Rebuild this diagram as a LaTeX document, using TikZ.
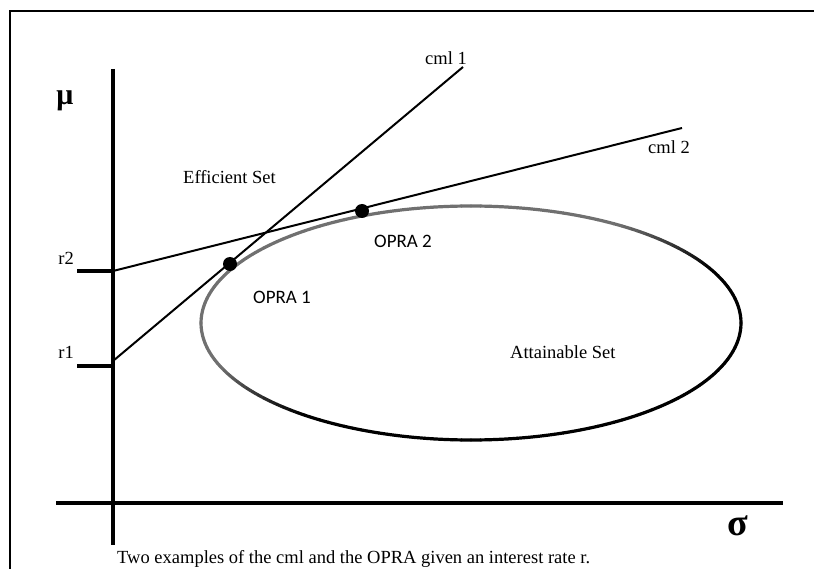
\documentclass[tikz,border=0pt]{standalone}
\usepackage{fontspec}
\setmainfont{Liberation Serif}
\newfontfamily\oprafont{Carlito}
\begin{document}
\begin{tikzpicture}[x=1pt,y=-1pt,
  axisline/.style={line width=4.5pt},
  cmlline/.style={line width=2pt},
  frameline/.style={line width=2pt},
  lbl/.style={inner sep=0pt,font=\fontsize{18.5}{18.5}\selectfont},
  oprlbl/.style={inner sep=0pt,font=\oprafont\fontsize{19}{19}\selectfont},
  dotmark/.style={circle,fill=black,minimum size=14pt,inner sep=0pt}]
\useasboundingbox (0,0) rectangle (814,569);
% frame
\coordinate (F1) at (10,569);
\coordinate (F2) at (10,11);
\coordinate (F3) at (814,11);
\draw[frameline] (F1) -- (F2) -- (F3);
% axes
\coordinate (Ytop) at (113,69);
\coordinate (Ybot) at (113,545);
\coordinate (Xl) at (56,503);
\coordinate (Xr) at (783,503);
\draw[axisline] (Ytop) -- (Ybot);
\draw[axisline] (Xl) -- (Xr);
% ticks
\coordinate (T2a) at (77,271);
\coordinate (T2b) at (113,271);
\coordinate (T1a) at (77,366);
\coordinate (T1b) at (113,366);
\draw[axisline] (T2a) -- (T2b);
\draw[axisline] (T1a) -- (T1b);
% ellipse with gradient
\coordinate (E) at (471,323);
\foreach \a in {0,2,...,358}{
  \pgfmathsetmacro\m{\a+1}
  \pgfmathsetmacro\c{cos(\m-130)}
  \pgfmathsetmacro\f{min(1,max(0,(\c+0.2)/0.5))}
  \pgfmathsetmacro\p{100-44*\f}
  \draw[line width=3.2pt,color=black!\p,line cap=round]
    (E) ++(-\a:270 and 117) arc[start angle=-\a,end angle=-\a-2,x radius=270,y radius=117];
}
% cml lines
\coordinate (C1s) at (113,361);
\coordinate (C1e) at (463,67);
\coordinate (C2s) at (113,271);
\coordinate (C2e) at (682,128);
\draw[cmlline] (C1s) -- (C1e);
\draw[cmlline] (C2s) -- (C2e);
% OPRA points
\node[dotmark] (O1) at (230,264) {};
\node[dotmark] (O2) at (362,211) {};
% labels
\node[inner sep=0pt,font=\fontsize{30}{30}\selectfont\bfseries] (mu) at (65,101) {μ};
\node[inner sep=0pt,font=\fontsize{38}{38}\selectfont\bfseries] (sigma) at (738,526) {σ};
\node[lbl,anchor=base east] (r2) at (74,265) {r2};
\node[lbl,anchor=base east] (r1) at (74,358) {r1};
\node[lbl,anchor=base west] (eff) at (183,184) {Efficient Set};
\node[lbl,anchor=base] (cml1) at (446,65) {cml 1};
\node[lbl,anchor=base] (cml2) at (669,154) {cml 2};
\node[oprlbl,anchor=base] (op1) at (282,304) {OPRA 1};
\node[oprlbl,anchor=base] (op2) at (403,248) {OPRA 2};
\node[lbl,anchor=base west] (att) at (510,358) {Attainable Set};
\node[lbl,anchor=base west] (cap) at (117,563) {Two examples of the cml and the OPRA given an interest rate r.};
\end{tikzpicture}
\end{document}
